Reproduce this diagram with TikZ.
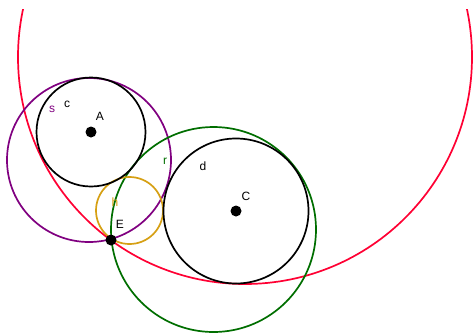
\documentclass[tikz,border=0pt]{standalone}
\usepackage{fontspec}
\setmainfont{Liberation Sans}
\definecolor{ggred}{RGB}{255,0,51}
\definecolor{ggpurple}{RGB}{128,0,128}
\definecolor{gggreen}{RGB}{0,110,0}
\definecolor{gggold}{RGB}{214,160,20}
\begin{document}
\begin{tikzpicture}[x=1pt,y=-1pt,
  circ/.style={line width=1.7pt},
  dot/.style={circle,fill=black,inner sep=0pt,minimum size=11pt},
  lbl/.style={font=\fontsize{12}{14}\selectfont,inner sep=0pt}]
\useasboundingbox (0,0) rectangle (474,333);
% points
\coordinate (A) at (91,132);
\coordinate (C) at (236,211);
\coordinate (E) at (111,240);
\coordinate (Ored) at (245,57);
\coordinate (Os) at (89,160);
\coordinate (Or) at (213.5,229.5);
\coordinate (Oh) at (129.5,210.5);
% circles
\begin{scope}
\clip (0,9) rectangle (474,333);
\draw[circ,ggred] (Ored) circle[radius=227];
\end{scope}
\draw[circ,ggpurple] (Os) circle[radius=82];
\draw[circ,gggreen] (Or) circle[radius=102.5];
\draw[circ,gggold] (Oh) circle[radius=33.5];
\draw[circ,black] (A) circle[radius=54.5];
\draw[circ,black] (C) circle[radius=72.5];
% dots
\node[dot] (pA) at (A) {};
\node[dot] (pC) at (C) {};
\node[dot] (pE) at (E) {};
% labels
\node[lbl,ggpurple] (ls) at (52,109) {s};
\node[lbl] (lc) at (67,104) {c};
\node[lbl] (lA) at (100,116) {A};
\node[lbl,gggreen] (lr) at (165,161) {r};
\node[lbl] (ld) at (203,166) {d};
\node[lbl] (lC) at (246,196) {C};
\node[lbl] (lE) at (120,224) {E};
\node[lbl,gggold] (lh) at (115,202) {h};
\end{tikzpicture}
\end{document}
